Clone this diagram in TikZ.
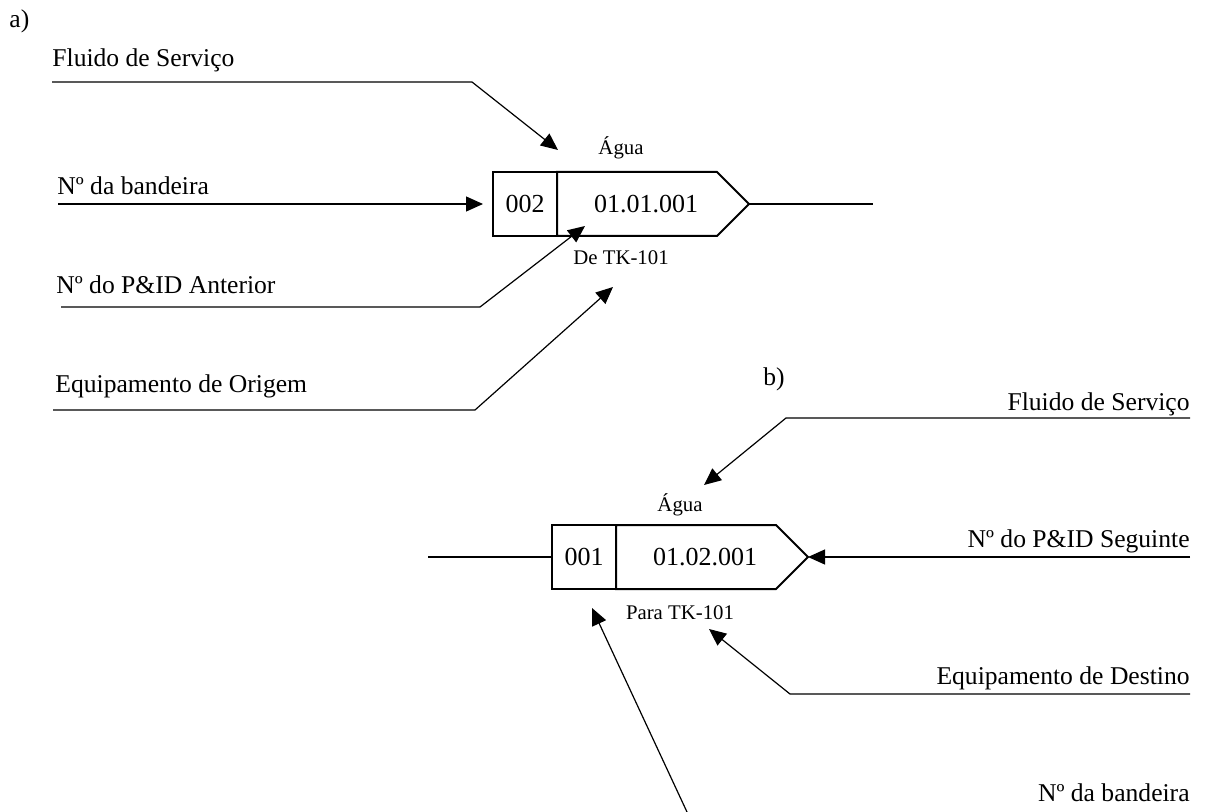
\documentclass[tikz,border=0pt]{standalone}
\usepackage{fontspec}
\setmainfont{Liberation Serif}
\usepackage{tikz}
\usetikzlibrary{positioning, arrows.meta, shapes.symbols, calc}

\begin{document}
\begin{tikzpicture}[
    x=0.5pt, y=-0.5pt,
    lbl/.style={font=\fontsize{12.8}{15}\selectfont, inner sep=0pt},
    small/.style={font=\fontsize{10.4}{12}\selectfont, inner sep=0pt},
    numbox/.style={rectangle, draw, line width=1pt, outer sep=0pt, inner sep=0pt, minimum width=32pt, minimum height=32pt, font=\fontsize{13}{15}\selectfont},
    tagbox/.style={signal, signal to=east, signal pointer angle=90, draw, line width=1pt, outer sep=0pt, inner sep=0pt, minimum width=96pt, minimum height=32pt, font=\fontsize{13}{15}\selectfont},
    pipe/.style={line width=1.3pt},
    lead/.style={line width=0.6pt},
    arrow/.style={lead, -{Triangle[length=8.5pt, width=7.5pt]}}
]
\useasboundingbox (0,0) rectangle (1224,812);

\node[lbl, anchor=base west] (partA) at (9,28) {a)};
\node[numbox] (numA) at (525,204) {002};
\node[tagbox, right=0pt of numA] (tagA) {\hspace{9pt}01.01.001};
\node[small, anchor=base] (aguaA) at ($(numA.north west)!.5!(tagA.east |- numA.north)+(0,-17)$) {Água};
\node[small, anchor=base] (origA) at ($(numA.south west)!.5!(tagA.east |- numA.south)+(0,29)$) {De TK-101};

\node[lbl, anchor=base west] (fluidoA) at (52,67) {Fluido de Serviço};
\node[lbl, anchor=base west] (bandA) at (57,195) {Nº da bandeira};
\node[lbl, anchor=base west] (antA) at (56,293) {Nº do P\&ID Anterior};
\node[lbl, anchor=base west] (equipA) at (55,392) {Equipamento de Origem};

\coordinate (fluidoAs) at (52,82);
\coordinate (fluidoAk) at (472,82);
\coordinate (fluidoAt) at (558,150);
\coordinate (bandAs) at (58,204);
\coordinate (antAs) at (61,307);
\coordinate (antAk) at (480,307);
\coordinate (antAt) at (585,226);
\coordinate (equipAs) at (53,410);
\coordinate (equipAk) at (475,410);
\coordinate (equipAt) at (613,287);
\coordinate (pipeA) at (873,204);

\draw[pipe] (tagA.east) -- (pipeA);
\draw[arrow] (fluidoAs) -- (fluidoAk) -- (fluidoAt);
\draw[arrow, shorten >=5pt] (bandAs) -- (numA.west);
\draw[arrow] (antAs) -- (antAk) -- (antAt);
\draw[arrow] (equipAs) -- (equipAk) -- (equipAt);

\node[lbl, anchor=base west] (partB) at (763,385) {b)};
\node[numbox] (numB) at (584,557) {001};
\node[tagbox, right=0pt of numB] (tagB) {\hspace{9pt}01.02.001};
\node[small, anchor=base] (aguaB) at ($(numB.north west)!.5!(tagB.east |- numB.north)+(0,-14)$) {Água};
\node[small, anchor=base] (destB) at ($(numB.south west)!.5!(tagB.east |- numB.south)+(0,30)$) {Para TK-101};

\node[lbl, anchor=base east] (fluidoB) at (1190,410) {Fluido de Serviço};
\node[lbl, anchor=base east] (segB) at (1190,547) {Nº do P\&ID Seguinte};
\node[lbl, anchor=base east] (equipB) at (1190,684) {Equipamento de Destino};
\node[lbl, anchor=base east] (bandB) at (1190,801) {Nº da bandeira};

\coordinate (fluidoBs) at (1190,418);
\coordinate (fluidoBk) at (786,418);
\coordinate (fluidoBt) at (704,485);
\coordinate (segBs) at (1190,557);
\coordinate (equipBs) at (1190,694);
\coordinate (equipBk) at (790,694);
\coordinate (equipBt) at (709,629);
\coordinate (bandBs) at (687,812);
\coordinate (bandBt) at (592,608);
\coordinate (pipeB) at (428,557);

\draw[pipe] (pipeB) -- (numB.west);
\draw[arrow] (fluidoBs) -- (fluidoBk) -- (fluidoBt);
\draw[arrow] (segBs) -- (tagB.east);
\draw[arrow] (equipBs) -- (equipBk) -- (equipBt);
\draw[arrow] (bandBs) -- (bandBt);
\end{tikzpicture}
\end{document}
